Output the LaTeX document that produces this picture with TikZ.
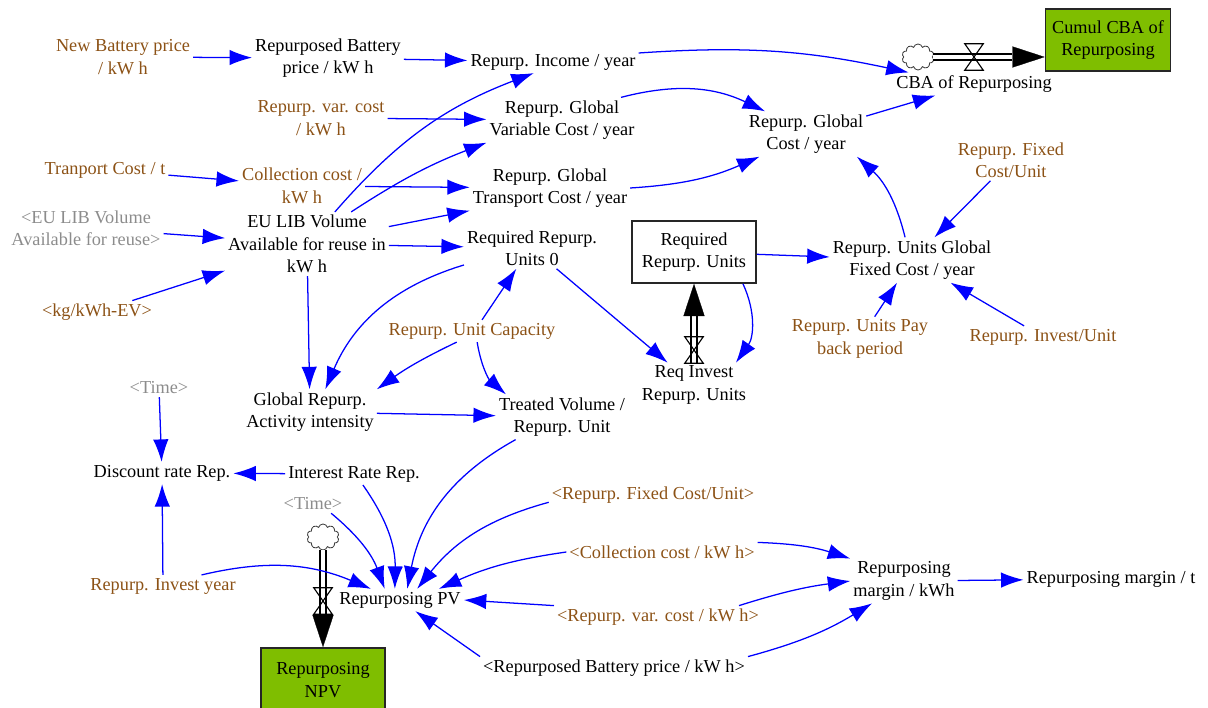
\documentclass[tikz,border=0pt]{standalone}
\usepackage{fontspec}
\setmainfont{Liberation Serif}
\usepackage{tikz}
\usetikzlibrary{arrows.meta, shapes.symbols}
\definecolor{paramcol}{RGB}{140,82,22}
\definecolor{ghostcol}{RGB}{140,140,140}
\definecolor{stockgreen}{RGB}{127,190,0}

\begin{document}
\begin{tikzpicture}[
    x=0.025cm, y=-0.025cm,
    every node/.style={font=\fontsize{13}{16}\selectfont, align=center, inner sep=2pt},
    aux/.style={text=black},
    param/.style={text=paramcol},
    ghost/.style={text=ghostcol},
    stock/.style={draw=black!85, line width=1.1pt, minimum width=3.1cm, minimum height=1.55cm, inner sep=1pt},
    valve/.style={minimum width=0.45cm, minimum height=0.65cm, inner sep=0pt},
    cloudy/.style={cloud, cloud puffs=10, draw=black!75, fill=white, line width=0.6pt, minimum width=0.8cm, minimum height=0.65cm, inner sep=0pt},
    arr/.style={-{Latex[length=16pt, width=11pt]}, blue, line width=0.9pt},
    pipe/.style={draw=black, double=white, double distance=3.5pt, line width=0.8pt, shorten >=23pt},
    flowtip/.style={draw=white, line width=0.2pt, -{Triangle[length=23pt, width=15pt, color=black, fill=black]}}
]
\useasboundingbox (0,0) rectangle (1208,708);

\node[param] (newbat) at (123,57) {New Battery price\\/ kW h};
\node[aux] (repbat) at (328,58) {Repurposed Battery\\price / kW h};
\node[aux] (income) at (553,62) {Repurp. Income / year};
\node[param] (varcost) at (321,118) {Repurp. var. cost\\/ kW h};
\node[aux] (globvar) at (562,120) {Repurp. Global\\Variable Cost / year};
\node[param] (transport) at (105,170) {Tranport Cost / t};
\node[param] (collection) at (302,186) {Collection cost /\\kW h};
\node[aux] (globtrans) at (550,188) {Repurp. Global\\Transport Cost / year};
\node[aux] (globcost) at (806,134) {Repurp. Global\\Cost / year};
\node[cloudy] (cbacloud) at (918,57) {};
\node[valve] (cbavalve) at (974,57) {};
\node[aux] (cba) at (974,84) {CBA of Repurposing};
\node[stock, fill=stockgreen, minimum width=3.125cm] (cumul) at (1108,40) {Cumul CBA of\\Repurposing};
\node[param] (fixedcost) at (1011,160) {Repurp. Fixed\\Cost/Unit};
\node[aux] (unitsfixed) at (912,260) {Repurp. Units Global\\Fixed Cost / year};
\node[param] (payback) at (860,339) {Repurp. Units Pay\\back period};
\node[param] (invest) at (1043,337) {Repurp. Invest/Unit};
\node[ghost] (euvolsh) at (86,228) {<EU LIB Volume\\Available for reuse>};
\node[aux] (euvol) at (307,244) {EU LIB Volume\\Available for reuse in\\kW h};
\node[param] (kg) at (97,312) {<kg/kWh-EV>};
\node[aux] (units0) at (532,248) {Required Repurp.\\Units 0};
\node[stock] (requnits) at (694,252) {Required\\Repurp. Units};
\node[valve] (invvalve) at (694,350) {};
\node[aux] (reqinvest) at (694,385) {Req Invest\\Repurp. Units};
\node[param] (unitcap) at (472,331) {Repurp. Unit Capacity};
\node[aux] (globact) at (310,412) {Global Repurp.\\Activity intensity};
\node[aux] (treated) at (562,417) {Treated Volume /\\Repurp. Unit};
\node[ghost] (time1) at (159,388) {<Time>};
\node[aux] (discount) at (162,473) {Discount rate Rep.};
\node[aux] (interest) at (354,474) {Interest Rate Rep.};
\node[ghost] (time2) at (313,504) {<Time>};
\node[param] (investyear) at (163,586) {Repurp. Invest year};
\node[cloudy] (npvcloud) at (323,537) {};
\node[valve] (npvvalve) at (323,601) {};
\node[aux] (pv) at (400,600) {Repurposing PV};
\node[stock, fill=stockgreen, minimum height=1.6cm] (npv) at (323,680) {Repurposing\\NPV};
\node[param] (fixedsh) at (653,495) {<Repurp. Fixed Cost/Unit>};
\node[param] (collsh) at (662,552) {<Collection cost / kW h>};
\node[param] (varsh) at (658,617) {<Repurp. var. cost / kW h>};
\node[aux] (batsh) at (614,668) {<Repurposed Battery price / kW h>};
\node[aux] (margin) at (904,581) {Repurposing\\margin / kWh};
\node[aux] (margint) at (1111,579) {Repurposing margin / t};

\draw[pipe] (cbacloud.east) -- (cumul.west |- cbacloud.east);
\draw[flowtip] (cbavalve.east) -- (cumul.west |- cbavalve.east);
\draw[pipe] (invvalve.south) -- (requnits);
\draw[flowtip] (invvalve.north) -- (requnits);
\draw[pipe] (npvcloud) -- (npv);
\draw[flowtip] (npvvalve.south) -- (npv);
\foreach \v in {cbavalve, invvalve, npvvalve}
  \draw[line width=0.8pt] (\v.north west) -- (\v.north east) -- (\v.south west) -- (\v.south east) -- cycle;

\draw[arr] (newbat) -- (repbat);
\draw[arr] (repbat) -- (income);
\draw[arr] (income.6) to[bend left=8] (cba.170);
\draw[arr] (varcost) -- (globvar);
\draw[arr] (globvar.21) to[bend left=20] (globcost.151);
\draw[arr] (transport) -- (collection);
\draw[arr] (collection) -- (globtrans);
\draw[arr] (globtrans.east) to[bend right=10] (globcost.-154);
\draw[arr] (globcost) -- (cba);
\draw[arr] (unitsfixed.107) to[bend right=17] (globcost.-24);
\draw[arr] (fixedcost) -- (unitsfixed);
\draw[arr] (payback) -- (unitsfixed);
\draw[arr] (invest) -- (unitsfixed);
\draw[arr] (requnits) -- (unitsfixed);
\draw[arr] (euvolsh) -- (euvol);
\draw[arr] (kg) -- (euvol.-162);
\draw[arr] (euvol.49) to[bend left=14] (income.-150);
\draw[arr] (euvol.36) to[bend left=6] (globvar.south west);
\draw[arr] (euvol.12) -- (globtrans.south west);
\draw[arr] (euvol) -- (units0);
\draw[arr] (euvol) -- (globact);
\draw[arr] (units0.-166) to[bend right=25] (globact.56);
\draw[arr] (unitcap.48) -- (units0.-127);
\draw[arr] (unitcap.-144) to[bend right=5] (globact.north east);
\draw[arr] (unitcap.-65) to[bend right=20] (treated.158);
\draw[arr] (globact) -- (treated);
\draw[arr] (units0) -- (reqinvest);
\draw[arr] (requnits.-33) to[bend left=30] (reqinvest.28);
\draw[arr] (treated.-154) to[bend right=25] (pv.57);
\draw[arr] (time1) -- (discount);
\draw[arr] (interest) -- (discount);
\draw[arr] (investyear) -- (discount);
\draw[arr] (interest.-51) to[bend left=18] (pv.115);
\draw[arr] (time2.-27) to[bend left=15] (pv.144);
\draw[arr] (investyear.16) to[bend left=18] (pv.159);
\draw[arr] (fixedsh.-176) to[bend right=18] (pv.33);
\draw[arr] (collsh.west) to[bend right=8] (pv.16);
\draw[arr] (varsh.north west) -- (pv.east);
\draw[arr] (batsh.north west) -- (pv.-36);
\draw[arr] (collsh.north east) to[bend left=8] (margin.north west);
\draw[arr] (varsh.8) to[bend left=5] (margin.west);
\draw[arr] (batsh.north east) to[bend right=8] (margin.-145);
\draw[arr] (margin) -- (margint);
\end{tikzpicture}
\end{document}
